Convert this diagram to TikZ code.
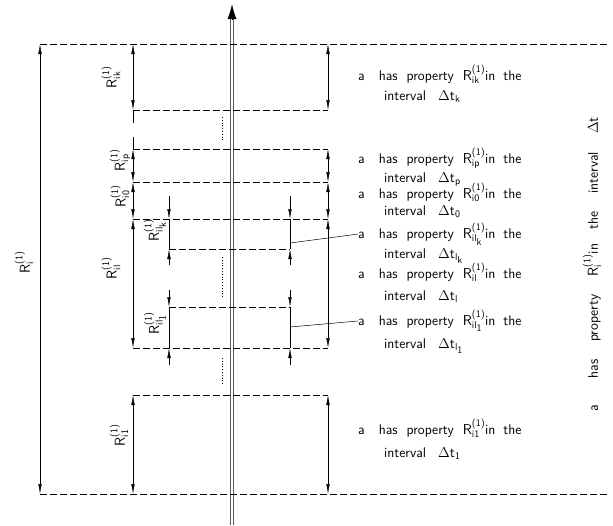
\documentclass[tikz,border=0pt]{standalone}
\usetikzlibrary{arrows.meta}
\newcommand\Sc[1]{\mbox{\sffamily\fontsize{10}{10}\selectfont #1}}
\newcommand\Rsub[1]{$\mathsf{R}^{\Sc{(1)}}_{\Sc{#1}}$}
\newcommand\Prop[5]{%
    \node[txt] (#1) at (358,#2) {a\hspace{14pt}has\hspace{9pt}property\hspace{9pt}\Rsub{#4}in\hspace{8pt}the};%
    \node[txt] (#1i) at (384,#3) {interval\hspace{12pt}$\Delta\mathsf{t}_{\Sc{#5}}$};%
}
\tikzset{
    level/.style={dash pattern=on 7pt off 3pt, line width=0.6pt},
    dim/.style={{Latex[length=10pt,width=3.5pt]}-{Latex[length=10pt,width=3.5pt]}, line width=0.5pt},
    tip/.style={-{Latex[length=10pt,width=3.5pt]}, line width=0.5pt},
    txt/.style={anchor=base west, inner sep=0pt, font=\sffamily\fontsize{14}{16}\selectfont},
    lab/.style={rotate=90, inner sep=0pt, font=\sffamily\fontsize{14}{16}\selectfont},
}

\begin{document}
\begin{tikzpicture}[x=1pt,y=-1pt]
\useasboundingbox (0,0) rectangle (613,525);
% time axis
\draw[double=white, double distance=2.5pt, line width=0.5pt, black!65] (232,525) -- (232,19);
\draw[-{Latex[length=15pt,width=9pt]}, line width=1pt] (232,20) -- (232,4);
% levels
\draw[level] (40,44) -- (608,44);
\draw[level] (40,494) -- (608,494);
\foreach \y in {110,149,182,219,348,395}
    \draw[level] (133,\y) -- (328,\y);
\foreach \y in {249,307}
    \draw[level] (169,\y) -- (290,\y);
% dimension lines
\draw[dim] (40,44) -- (40,494);
\foreach \x in {133,328}
    \foreach \a/\b in {44/110,149/182,182/219,219/348,395/494}
        \draw[dim] (\x,\a) -- (\x,\b);
\draw[line width=0.5pt] (133,110) -- (133,123) (133,137) -- (133,149);
\foreach \x in {169,290}
    \foreach \a/\b/\c/\d in {196/219/249/265,290/307/348/365} {
        \draw[tip] (\x,\a) -- (\x,\b);
        \draw[tip] (\x,\d) -- (\x,\c);
        \draw[line width=0.5pt] (\x,\b) -- (\x,\c);
    }
% dots
\foreach \a/\b in {117/140,257/298,358/385}
    \draw[dotted, line width=0.8pt] (222,\a) -- (222,\b);
% labels
\node[lab] (Ri) at (24,262) {\Rsub{i}};
\node[lab] (Rik) at (111,77) {\Rsub{ik}};
\node[lab] (Rip) at (120,160) {\Rsub{ip}};
\node[lab] (Ri0) at (120,196) {\Rsub{i0}};
\node[lab] (Ril) at (111,268) {\Rsub{il}};
\node[lab] (Rilk) at (155,230) {$\mathsf{R}^{\Sc{(1)}}_{\Sc{il}_{\Sc{k}}}$};
\node[lab] (Rilone) at (155,323) {$\mathsf{R}^{\Sc{(1)}}_{\Sc{il}_{\Sc{1}}}$};
\node[lab] (Rione) at (119,435) {\Rsub{i1}};
% texts
\Prop{tk}{80}{100}{ik}{k}
\Prop{tp}{163}{182}{ip}{p}
\Prop{tz}{198}{215}{i0}{0}
\node[txt] (tlk) at (358,238) {a\hspace{14pt}has\hspace{9pt}property\hspace{9pt}$\mathsf{R}^{\Sc{(1)}}_{\Sc{il}_{\Sc{k}}}$in\hspace{8pt}the};
\node[txt] (tlki) at (384,258) {interval\hspace{12pt}$\Delta\mathsf{t}_{\Sc{l}_{\Sc{k}}}$};
\Prop{tl}{278}{300}{il}{l}
\node[txt] (tlo) at (358,325) {a\hspace{14pt}has\hspace{9pt}property\hspace{9pt}$\mathsf{R}^{\Sc{(1)}}_{\Sc{il}_{\Sc{1}}}$in\hspace{8pt}the};
\node[txt] (tloi) at (384,348) {interval\hspace{12pt}$\Delta\mathsf{t}_{\Sc{l}_{\Sc{1}}}$};
\Prop{to}{434}{457}{i1}{1}
\node[lab] (tall) at (592,264) {a\hspace{26pt}has\hspace{18pt}property\hspace{18pt}\Rsub{i}in\hspace{14pt}the\hspace{18pt}interval\hspace{18pt}$\Delta\mathsf{t}$};
% leaders
\coordinate (lk) at (290,243);
\coordinate (lo) at (290,327);
\draw[line width=0.5pt] (lk) -- (tlk.west);
\draw[line width=0.5pt] (lo) -- (tlo.west);
\end{tikzpicture}
\end{document}
